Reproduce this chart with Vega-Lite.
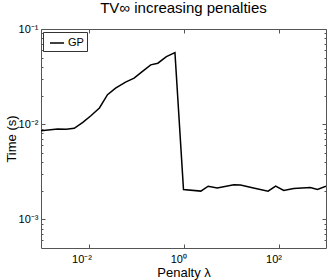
{
  "$schema": "https://vega.github.io/schema/vega-lite/v6.json",
  "autosize": "none",
  "width": 285,
  "height": 219,
  "padding": {"left": 41, "top": 29, "right": 6, "bottom": 32},
  "background": "white",
  "config": {
    "font": "Liberation Sans",
    "view": {"stroke": null},
    "axis": {"grid": false, "domainColor": "#555", "tickColor": "#555", "labelColor": "#000", "titleColor": "#000", "labelFont": "Liberation Sans", "titleFont": "Liberation Sans", "labelFontSize": 11, "titleFontSize": 13, "titleFontWeight": "normal", "domainWidth": 1, "tickWidth": 1}
  },
  "title": {"text": "TV∞ increasing penalties", "fontSize": 15, "fontWeight": "normal", "font": "Liberation Sans", "offset": 7, "frame": "group", "anchor": "middle"},
  "data": {
    "values": [
      {"lam": 0.001, "t": 0.00855},
      {"lam": 0.00224, "t": 0.00891},
      {"lam": 0.00339, "t": 0.00883},
      {"lam": 0.00501, "t": 0.00904},
      {"lam": 0.00759, "t": 0.01044},
      {"lam": 0.01122, "t": 0.01227},
      {"lam": 0.01698, "t": 0.0148},
      {"lam": 0.02512, "t": 0.0204},
      {"lam": 0.03715, "t": 0.0239},
      {"lam": 0.06026, "t": 0.0277},
      {"lam": 0.0912, "t": 0.0305},
      {"lam": 0.1349, "t": 0.0357},
      {"lam": 0.2042, "t": 0.042},
      {"lam": 0.2884, "t": 0.0437},
      {"lam": 0.4365, "t": 0.0513},
      {"lam": 0.6607, "t": 0.0565},
      {"lam": 1.0, "t": 0.00206},
      {"lam": 2.317, "t": 0.00198},
      {"lam": 3.311, "t": 0.00223},
      {"lam": 5.129, "t": 0.00213},
      {"lam": 11.48, "t": 0.00231},
      {"lam": 15.85, "t": 0.00229},
      {"lam": 28.18, "t": 0.00215},
      {"lam": 60.26, "t": 0.00198},
      {"lam": 87.1, "t": 0.00223},
      {"lam": 128.8, "t": 0.00201},
      {"lam": 208.9, "t": 0.00211},
      {"lam": 467.7, "t": 0.00216},
      {"lam": 660.7, "t": 0.00206},
      {"lam": 1000, "t": 0.00223}
    ]
  },
  "resolve": {"axis": {"x": "independent", "y": "independent"}},
  "layer": [
    {
      "mark": {"type": "line", "strokeWidth": 1.5, "clip": true},
      "encoding": {
        "x": {"field": "lam", "type": "quantitative", "scale": {"type": "log", "domain": [0.001, 1000], "nice": false},
          "axis": {"orient": "bottom", "values": [0.01, 1, 100], "tickSize": -4, "labelPadding": 18, "labelBaseline": "alphabetic", "labelAlign": "right", "labelOffset": 3,
            "labelExpr": "datum.value < 0.1 ? '10⁻²' : datum.value < 10 ? '10⁰' : '10²'",
            "title": "Penalty λ", "titleBaseline": "alphabetic", "titleY": 28}},
        "y": {"field": "t", "type": "quantitative", "scale": {"type": "log", "domain": [0.0005, 0.1], "nice": false},
          "axis": {"orient": "left", "values": [0.001, 0.01, 0.1], "tickSize": -4, "labelPadding": 7, "labelBaseline": "middle", "labelAlign": "right",
            "labelExpr": "datum.value < 0.005 ? '10⁻³' : datum.value < 0.05 ? '10⁻²' : '10⁻¹'",
            "title": "Time (s)", "titleBaseline": "alphabetic", "titleX": -26}},
        "color": {"datum": "GP", "type": "nominal", "scale": {"range": ["#000000"]},
          "legend": {"title": null, "orient": "none", "legendX": 2, "legendY": 3, "symbolType": "stroke", "symbolSize": 196, "symbolStrokeWidth": 1.5, "labelFontSize": 11, "labelFont": "Liberation Sans", "strokeColor": "#333", "fillColor": "white", "padding": 3, "symbolOffset": 3, "labelOffset": 3}}
      }
    },
    {
      "mark": {"type": "line", "opacity": 0},
      "encoding": {
        "x": {"field": "lam", "type": "quantitative", "axis": {"orient": "top", "values": [0.01, 1, 100], "tickSize": -4, "labels": false, "title": null}},
        "y": {"field": "t", "type": "quantitative", "axis": {"orient": "right", "values": [0.001, 0.01, 0.1], "tickSize": -4, "labels": false, "title": null}}
      }
    },
    {
      "mark": {"type": "line", "opacity": 0},
      "encoding": {
        "x": {"field": "lam", "type": "quantitative", "axis": null},
        "y": {"field": "t", "type": "quantitative", "axis": {"orient": "left", "values": [0.0006, 0.0007, 0.0008, 0.0009, 0.002, 0.003, 0.004, 0.005, 0.006, 0.007, 0.008, 0.009, 0.02, 0.03, 0.04, 0.05, 0.06, 0.07, 0.08, 0.09], "tickSize": -2, "labels": false, "domain": false, "title": null}}
      }
    },
    {
      "mark": {"type": "line", "opacity": 0},
      "encoding": {
        "x": {"field": "lam", "type": "quantitative", "axis": null},
        "y": {"field": "t", "type": "quantitative", "axis": {"orient": "right", "values": [0.0006, 0.0007, 0.0008, 0.0009, 0.002, 0.003, 0.004, 0.005, 0.006, 0.007, 0.008, 0.009, 0.02, 0.03, 0.04, 0.05, 0.06, 0.07, 0.08, 0.09], "tickSize": -2, "labels": false, "domain": false, "title": null}}
      }
    }
  ]
}
